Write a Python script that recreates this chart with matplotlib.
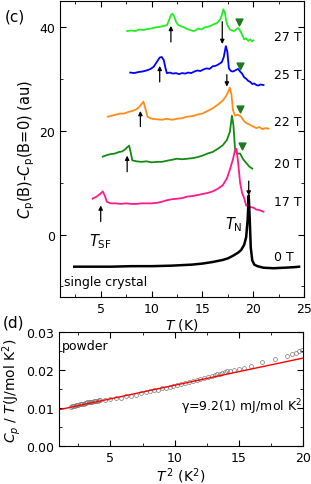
import matplotlib
matplotlib.use("Agg")
import matplotlib.pyplot as plt
from matplotlib.ticker import MultipleLocator, FormatStrFormatter

plt.rcParams['font.family'] = ['DejaVu Sans']
plt.rcParams['font.size'] = 9
plt.rcParams['mathtext.default'] = 'regular'

# (c) single crystal, Cp(B)-Cp(B=0) offset curves
t_27 = [7.6, 8.0, 8.4, 8.8, 9.2, 9.6, 10.0, 10.4, 10.8, 11.2, 11.5, 11.7, 11.9, 12.05, 12.2, 12.4, 12.6, 12.9, 13.2, 13.5,
        13.8, 14.1, 14.3, 14.6, 14.9, 15.2, 15.5, 15.8, 16.1, 16.4, 16.7, 16.9, 17.05, 17.2, 17.35, 17.5, 17.7, 17.9,
        18.1, 18.3, 18.5, 18.7, 18.9, 19.1, 19.3, 19.5, 19.7, 19.9, 20.0]
v_27 = [39.2, 39.3, 39.2, 39.5, 39.4, 39.6, 39.7, 39.9, 40.0, 40.2, 40.3, 41.2, 42.3, 42.5, 42.1, 41.0, 40.4, 40.1, 39.9, 39.6,
        39.4, 39.2, 39.3, 39.7, 39.5, 39.9, 40.0, 40.2, 40.5, 40.7, 41.3, 42.2, 43.4, 42.8, 41.0, 40.2, 39.5, 39.3,
        39.2, 39.5, 39.8, 39.3, 38.5, 37.6, 37.8, 37.3, 37.6, 37.2, 37.4]

t_25 = [7.9, 8.3, 8.7, 9.1, 9.5, 9.9, 10.2, 10.5, 10.8, 11.0, 11.2, 11.35, 11.5, 11.8, 12.1, 12.4, 12.7, 13.0, 13.3, 13.6,
        13.9, 14.2, 14.5, 14.8, 15.1, 15.4, 15.7, 16.0, 16.3, 16.6, 16.9, 17.1, 17.3, 17.45, 17.6, 17.8, 18.0, 18.2,
        18.5, 18.7, 18.9, 19.1, 19.3, 19.5, 19.7, 19.9, 20.1, 20.3, 20.5, 20.7, 21.0]
v_25 = [31.2, 31.1, 31.3, 31.4, 31.6, 31.9, 32.3, 33.2, 34.1, 34.2, 33.6, 32.2, 31.1, 31.2, 31.0, 31.1, 30.9, 31.1, 31.0, 31.2,
        31.1, 31.4, 31.6, 31.5, 31.8, 32.0, 31.9, 32.4, 32.5, 32.8, 33.2, 34.2, 36.3, 35.2, 32.0, 31.5, 31.4, 31.6,
        31.9, 31.4, 31.0, 30.3, 30.0, 29.6, 29.4, 29.0, 29.1, 28.8, 28.7, 28.9, 28.8]

t_22 = [5.7, 6.1, 6.5, 6.9, 7.3, 7.7, 8.1, 8.5, 8.8, 9.0, 9.2, 9.4, 9.6, 10.0, 10.5, 11.0, 11.5, 12.0, 12.5, 13.0, 13.5,
        14.0, 14.5, 15.0, 15.5, 16.0, 16.5, 17.0, 17.3, 17.55, 17.7, 17.85, 18.0, 18.2, 18.5, 18.8, 19.1, 19.4, 19.7,
        20.0, 20.3, 20.6, 20.9, 21.2, 21.5]
v_22 = [22.7, 22.9, 23.1, 23.3, 23.3, 23.6, 23.8, 24.1, 24.6, 25.1, 25.6, 24.2, 22.7, 22.3, 22.2, 22.1, 22.3, 22.1, 22.3,
        22.4, 22.7, 22.8, 23.1, 23.3, 23.8, 24.3, 25.0, 25.8, 26.6, 27.6, 28.3, 27.0, 24.0, 22.9, 23.1, 22.7, 21.8,
        21.4, 21.1, 20.8, 20.5, 20.7, 20.3, 20.5, 20.4]

t_20 = [5.2, 5.6, 6.0, 6.4, 6.8, 7.1, 7.4, 7.6, 7.8, 7.95, 8.1, 8.5, 9.0, 9.5, 10.0, 10.5, 11.0, 11.5, 12.0, 12.5, 13.0,
        13.5, 14.0, 14.5, 15.0, 15.5, 16.0, 16.5, 17.0, 17.4, 17.7, 17.9, 18.05, 18.2, 18.4, 18.7, 19.0, 19.3, 19.6, 19.9]
v_20 = [15.0, 15.3, 15.5, 15.6, 15.9, 16.0, 16.4, 16.8, 17.1, 15.8, 14.3, 14.1, 14.0, 14.1, 13.9, 14.0, 14.0, 14.2, 14.4,
        14.6, 14.5, 14.6, 14.7, 14.9, 15.2, 15.6, 15.9, 16.5, 17.2, 18.2, 19.8, 22.9, 21.0, 16.5, 15.6, 15.6, 14.5,
        13.8, 13.1, 12.7]

t_17 = [4.2, 4.6, 5.0, 5.2, 5.4, 5.6, 6.0, 6.5, 7.0, 7.5, 8.0, 8.5, 9.0, 9.5, 10.0, 10.5, 11.0, 11.5, 12.0, 12.5, 13.0,
        13.5, 14.0, 14.5, 15.0, 15.5, 16.0, 16.5, 17.0, 17.4, 17.7, 18.0, 18.2, 18.35, 18.5, 18.7, 18.9, 19.1, 19.3,
        19.6, 20.0, 20.3, 20.6, 21.0]
v_17 = [6.9, 7.3, 7.9, 8.3, 7.5, 6.3, 6.0, 6.0, 5.9, 6.0, 5.9, 5.9, 6.0, 6.0, 6.0, 6.1, 6.3, 6.6, 6.8, 6.9, 7.0, 7.3,
        7.4, 7.6, 7.8, 8.0, 8.3, 8.8, 9.5, 10.8, 12.5, 14.5, 16.2, 16.5, 14.0, 10.0, 8.0, 7.0, 5.6, 5.3, 5.2, 4.8, 4.7, 4.4]

t_0 = [2.4, 4.0, 6.0, 8.0, 10.0, 12.0, 13.0, 14.0, 15.0, 16.0, 17.0, 17.5, 18.0, 18.5, 18.8, 19.1, 19.3, 19.45, 19.55,
       19.65, 19.75, 19.9, 20.1, 20.4, 21.0, 22.0, 23.0, 24.0, 24.5]
v_0 = [-6.2, -6.2, -6.2, -6.1, -6.1, -6.0, -5.9, -5.8, -5.6, -5.3, -4.9, -4.6, -4.1, -3.5, -3.0, -2.0, -0.5, 3.0, 7.5,
       3.0, -2.5, -5.0, -5.8, -6.1, -6.4, -6.5, -6.4, -6.3, -6.2]

field_labels = ['27 T', '25 T', '22 T', '20 T', '17 T', '0 T']
label_y = [38.1, 30.8, 21.7, 13.7, 6.3, -4.2]

# arrows: (T, tail, head)
arrows_low = [(11.9, 37.1, 40.2), (10.8, 29.4, 32.5), (8.9, 20.8, 23.8), (7.6, 12.1, 15.2), (5.0, 2.5, 5.6)]
arrows_high = [(16.95, 41.0, 36.7), (17.4, 30.8, 28.5), (19.55, 10.3, 7.5)]
tri_t = [18.6, 18.7, 18.7, 18.9]
tri_v = [41.0, 32.5, 24.2, 17.1]

# (d) powder Cp/T vs T^2
t2 = [1.9, 2.0, 2.1, 2.2, 2.3, 2.4, 2.5, 2.6, 2.7, 2.8, 2.9, 3.0, 3.1, 3.2, 3.3, 3.4, 3.5, 3.6, 3.7, 3.8, 3.9, 4.0,
      4.1, 4.2, 4.6, 5.0, 5.4, 5.8, 6.2, 6.6, 7.0, 7.4, 7.8, 8.1, 8.4, 8.7, 9.0, 9.3, 9.6, 9.9, 10.2, 10.5, 10.8,
      11.1, 11.4, 11.7, 12.0, 12.3, 12.6, 12.9, 13.1, 13.3, 13.5, 13.7, 13.9, 14.1, 14.3, 14.6, 15.0, 15.4, 15.9,
      16.8, 17.8, 18.7, 19.1, 19.4, 19.7, 19.9]
cpt = [0.0104, 0.0105, 0.0106, 0.0107, 0.0108, 0.0108, 0.0109, 0.0110, 0.0111, 0.0112, 0.0112, 0.0113, 0.0114,
       0.0115, 0.0115, 0.0116, 0.0117, 0.0117, 0.0118, 0.0119, 0.0119, 0.0120, 0.0121, 0.0121, 0.0122, 0.0124,
       0.0126, 0.0128, 0.0131, 0.0133, 0.0136, 0.0139, 0.0142, 0.0145, 0.0147, 0.0149, 0.0152, 0.0154, 0.0156,
       0.0159, 0.0162, 0.0164, 0.0167, 0.0169, 0.0172, 0.0175, 0.0178, 0.0180, 0.0183, 0.0185, 0.0187, 0.0189,
       0.0191, 0.0193, 0.0195, 0.0197, 0.0199, 0.0201, 0.0204, 0.0207, 0.0210, 0.0221, 0.0229, 0.0238, 0.0242,
       0.0246, 0.0250, 0.0253]
fit_x = [1.0, 20.0]
fit_y = [0.0096, 0.0232]

fig = plt.figure(figsize=(3.11, 4.85), dpi=100)
ax = fig.add_axes([0.193, 0.386, 0.785, 0.610])
ax2 = fig.add_axes([0.190, 0.078, 0.785, 0.235])

colors = ['#22ee22', '#0000ff', '#ff8c1a', '#138a13', '#ff1a8c']
for t, v, c in zip([t_27, t_25, t_22, t_20, t_17], [v_27, v_25, v_22, v_20, v_17], colors):
    ax.plot(t, v, color=c, lw=1.3)
ax.plot(t_0, v_0, color='black', lw=1.8)

for lab, y in zip(field_labels, label_y):
    ax.text(22.0, y, lab, ha='left', va='center', fontsize=9)

for t, y0, y1 in arrows_low + arrows_high:
    ax.annotate('', xy=(t, y1), xytext=(t, y0),
                arrowprops=dict(arrowstyle='-|>', color='black', lw=0.9, mutation_scale=6, shrinkA=0, shrinkB=0))
ax.scatter(tri_t, tri_v, marker='v', s=24, color='#1f7a1f', zorder=5)

ax.text(5.0, -1.2, r'$\it{T}_{\rm SF}$', ha='center', va='center', fontsize=10.5)
ax.text(18.1, 2.1, r'$\it{T}_{\rm N}$', ha='center', va='center', fontsize=10.5)
ax.text(1.4, -9.0, 'single crystal', ha='left', va='center', fontsize=9)

ax.set_xlim(1, 25)
ax.set_ylim(-12, 45)
ax.xaxis.set_major_locator(MultipleLocator(5))
ax.xaxis.set_minor_locator(MultipleLocator(2.5))
ax.yaxis.set_major_locator(MultipleLocator(20))
ax.yaxis.set_minor_locator(MultipleLocator(10))
ax.set_xlabel(r'$\it{T}$ (K)', fontsize=10, labelpad=1)
ax.set_ylabel(r'$\it{C}_{\rm p}$(B)-$\it{C}_{\rm p}$(B=0) (au)', fontsize=10.5, labelpad=2)
fig.text(0.015, 0.965, '(c)', fontsize=11, va='center')

ax2.plot(t2, cpt, 'o', mfc='none', mec='#777777', ms=2.8, mew=0.5)
ax2.plot(fit_x, fit_y, color='red', lw=1.0)
ax2.set_xlim(1, 20)
ax2.set_ylim(0, 0.03)
ax2.xaxis.set_major_locator(MultipleLocator(5))
ax2.xaxis.set_minor_locator(MultipleLocator(2.5))
ax2.yaxis.set_major_locator(MultipleLocator(0.01))
ax2.yaxis.set_minor_locator(MultipleLocator(0.005))
ax2.yaxis.set_major_formatter(FormatStrFormatter('%.2f'))
ax2.text(1.2, 0.0265, 'powder', ha='left', va='center', fontsize=9)
ax2.text(19.9, 0.0105, r'$\gamma$=9.2(1) mJ/mol K$^2$', ha='right', va='center', fontsize=9)
ax2.set_xlabel(r'$\it{T}^{\,2}$ (K$^2$)', fontsize=10, labelpad=1)
ax2.set_ylabel(r'$\it{C}_{p}$ / $\it{T}$(J/mol K$^2$)', fontsize=10, labelpad=2)
fig.text(0.01, 0.335, '(d)', fontsize=11, va='center')

for a in (ax, ax2):
    a.tick_params(which='both', direction='in', top=True, right=True, labelsize=9)
    a.tick_params(which='major', length=4)
    a.tick_params(which='minor', length=2)

fig.savefig('out.png', dpi=100)
